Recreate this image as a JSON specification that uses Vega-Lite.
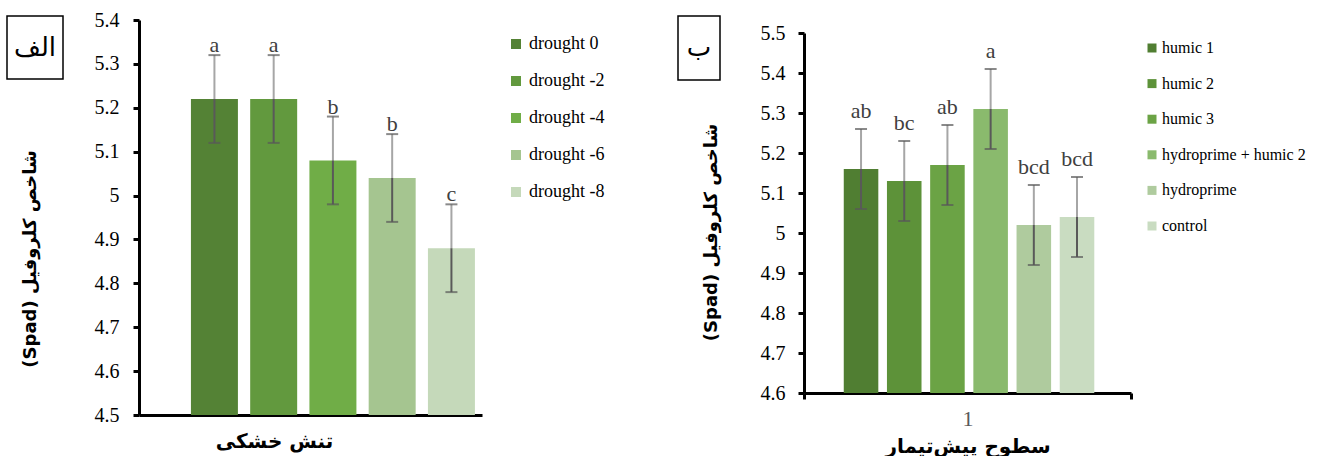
{
  "$schema": "https://vega.github.io/schema/vega-lite/v6.json",
  "padding": {"left": 6, "top": 10, "right": 0, "bottom": 0},
  "background": "white",
  "config": {
    "view": {"stroke": null},
    "axis": {"grid": false}
  },
  "datasets": {
    "left": [
      {"treatment": "drought 0", "value": 5.22, "lo": 5.12, "hi": 5.32, "letter": "a"},
      {"treatment": "drought -2", "value": 5.22, "lo": 5.12, "hi": 5.32, "letter": "a"},
      {"treatment": "drought -4", "value": 5.08, "lo": 4.98, "hi": 5.18, "letter": "b"},
      {"treatment": "drought -6", "value": 5.04, "lo": 4.94, "hi": 5.14, "letter": "b"},
      {"treatment": "drought -8", "value": 4.88, "lo": 4.78, "hi": 4.98, "letter": "c"}
    ],
    "right": [
      {"grp": "1", "treatment": "humic 1", "value": 5.16, "lo": 5.06, "hi": 5.26, "letter": "ab"},
      {"grp": "1", "treatment": "humic 2", "value": 5.13, "lo": 5.03, "hi": 5.23, "letter": "bc"},
      {"grp": "1", "treatment": "humic 3", "value": 5.17, "lo": 5.07, "hi": 5.27, "letter": "ab"},
      {"grp": "1", "treatment": "hydroprime + humic 2", "value": 5.31, "lo": 5.21, "hi": 5.41, "letter": "a"},
      {"grp": "1", "treatment": "hydroprime", "value": 5.02, "lo": 4.92, "hi": 5.12, "letter": "bcd"},
      {"grp": "1", "treatment": "control", "value": 5.04, "lo": 4.94, "hi": 5.14, "letter": "bcd"}
    ],
    "boxA": [{"t": "الف"}],
    "boxB": [{"t": "ب"}],
    "ytitle": [{"t": "(Spad) شاخص کلروفیل"}],
    "none": []
  },
  "resolve": {"scale": {"color": "independent"}, "legend": {"color": "independent"}},
  "spacing": 72,
  "hconcat": [
    {
      "spacing": 30,
      "hconcat": [
        {
          "spacing": 0,
          "vconcat": [
            {
              "width": 56, "height": 63,
              "view": {"stroke": "black", "strokeWidth": 1.5},
              "data": {"name": "boxA"},
              "mark": {"type": "text", "font": "DejaVu Sans", "fontSize": 26, "color": "black", "baseline": "middle", "align": "center"},
              "encoding": {"text": {"field": "t"}}
            },
            {
              "width": 48, "height": 358,
              "data": {"name": "ytitle"},
              "mark": {"type": "text", "font": "DejaVu Sans", "fontWeight": "bold", "fontSize": 18, "color": "black", "angle": 270, "baseline": "middle", "align": "center"},
              "encoding": {"text": {"field": "t"}}
            }
          ]
        },
        {
          "spacing": -7,
          "vconcat": [
            {
              "width": 1, "height": 1,
              "data": {"name": "none"},
              "mark": "rect"
            },
            {
              "width": 343, "height": 395,
              "data": {"name": "left"},
              "encoding": {
                "x": {
                  "field": "treatment", "type": "nominal", "sort": null,
                  "scale": {"paddingInner": 0.207, "paddingOuter": 0.498, "align": 0.88},
                  "axis": {
                    "labels": false, "ticks": false, "domainColor": "black", "domainWidth": 3,
                    "title": "تنش خشکی", "titleFont": "DejaVu Sans", "titleFontWeight": "bold",
                    "titleFontSize": 20, "titleColor": "black", "titleX": 135, "titleAlign": "center", "titlePadding": 16
                  }
                },
                "y": {
                  "field": "value", "type": "quantitative", "title": null,
                  "scale": {"domain": [4.5, 5.4], "nice": false, "zero": false},
                  "axis": {
                    "values": [4.5, 4.6, 4.7, 4.8, 4.9, 5.0, 5.1, 5.2, 5.3, 5.4], "tickCount": 10, "format": ".1~f", "labelOverlap": false,
                    "domainColor": "black", "domainWidth": 3, "tickColor": "black", "tickWidth": 3, "tickSize": 6,
                    "labelFont": "Liberation Serif", "labelFontSize": 20, "labelColor": "black", "labelPadding": 14
                  }
                }
              },
              "layer": [
                {
                  "mark": {"type": "bar"},
                  "encoding": {
                    "y2": {"datum": 4.5},
                    "color": {
                      "field": "treatment", "type": "nominal", "sort": null,
                      "scale": {
                        "domain": ["drought 0", "drought -2", "drought -4", "drought -6", "drought -8"],
                        "range": ["#548235", "#62993e", "#70ad47", "#a5c590", "#c5d9ba"]
                      },
                      "legend": {
                        "orient": "none", "legendX": 500, "legendY": 19, "title": null, "padding": 0,
                        "symbolType": "square", "symbolSize": 100, "symbolStrokeWidth": 0, "symbolOpacity": 1,
                        "labelFont": "Liberation Serif", "labelFontSize": 18, "labelColor": "black",
                        "rowPadding": 19, "labelOffset": 4
                      }
                    }
                  }
                },
                {
                  "mark": {"type": "rule", "color": "#a6a6a6", "strokeWidth": 2},
                  "encoding": {"y2": {"field": "hi"}}
                },
                {
                  "mark": {"type": "rule", "color": "#595959", "strokeWidth": 2},
                  "encoding": {
                    "y": {"field": "lo", "type": "quantitative", "title": null},
                    "y2": {"field": "value"}
                  }
                },
                {
                  "mark": {"type": "tick", "color": "#595959", "thickness": 2, "size": 12},
                  "encoding": {"y": {"field": "hi", "type": "quantitative", "title": null}}
                },
                {
                  "mark": {"type": "tick", "color": "#595959", "thickness": 2, "size": 12},
                  "encoding": {"y": {"field": "lo", "type": "quantitative", "title": null}}
                },
                {
                  "mark": {"type": "text", "font": "Liberation Serif", "fontSize": 22, "color": "#404040", "baseline": "alphabetic", "dy": -3},
                  "encoding": {
                    "y": {"field": "hi", "type": "quantitative", "title": null},
                    "text": {"field": "letter"}
                  }
                }
              ]
            }
          ]
        }
      ]
    },
    {
      "spacing": 14,
      "hconcat": [
        {
          "spacing": 0,
          "vconcat": [
            {
              "width": 42, "height": 64,
              "view": {"stroke": "black", "strokeWidth": 1.5},
              "data": {"name": "boxB"},
              "mark": {"type": "text", "font": "DejaVu Sans", "fontSize": 26, "color": "black", "baseline": "middle", "align": "center"},
              "encoding": {"text": {"field": "t"}}
            },
            {
              "width": 68, "height": 303,
              "data": {"name": "ytitle"},
              "mark": {"type": "text", "font": "DejaVu Sans", "fontWeight": "bold", "fontSize": 18, "color": "black", "angle": 270, "baseline": "middle", "align": "center"},
              "encoding": {"text": {"field": "t"}}
            }
          ]
        },
        {
          "spacing": 6,
          "vconcat": [
            {
              "width": 1, "height": 1,
              "data": {"name": "none"},
              "mark": "rect"
            },
            {
              "width": 327, "height": 360,
              "data": {"name": "right"},
              "encoding": {
                "x": {
                  "field": "grp", "type": "nominal",
                  "scale": {"paddingInner": 0, "paddingOuter": 0},
                  "axis": {
                    "labelAngle": 0, "labelFont": "Liberation Serif", "labelFontSize": 22, "labelColor": "#595959", "labelPadding": 9,
                    "ticks": true, "tickBand": "extent", "tickSize": 6, "tickWidth": 3, "tickColor": "black",
                    "domainColor": "black", "domainWidth": 3,
                    "title": "سطوح پیش‌تیمار", "titleFont": "DejaVu Sans", "titleFontWeight": "bold",
                    "titleFontSize": 20, "titleColor": "black", "titlePadding": 7
                  }
                },
                "xOffset": {
                  "field": "treatment", "type": "nominal", "sort": null,
                  "scale": {"domain": ["humic 1", "humic 2", "humic 3", "hydroprime + humic 2", "hydroprime", "control"], "paddingInner": 0.2, "paddingOuter": 0.885, "align": 0.52}
                },
                "y": {
                  "field": "value", "type": "quantitative", "title": null,
                  "scale": {"domain": [4.6, 5.5], "nice": false, "zero": false},
                  "axis": {
                    "values": [4.6, 4.7, 4.8, 4.9, 5.0, 5.1, 5.2, 5.3, 5.4, 5.5], "tickCount": 10, "format": ".1~f", "labelOverlap": false,
                    "domainColor": "black", "domainWidth": 3, "tickColor": "black", "tickWidth": 3, "tickSize": 6,
                    "labelFont": "Liberation Serif", "labelFontSize": 20, "labelColor": "black", "labelPadding": 13
                  }
                }
              },
              "layer": [
                {
                  "mark": {"type": "bar"},
                  "encoding": {
                    "y2": {"datum": 4.6},
                    "color": {
                      "field": "treatment", "type": "nominal", "sort": null,
                      "scale": {
                        "domain": ["humic 1", "humic 2", "humic 3", "hydroprime + humic 2", "hydroprime", "control"],
                        "range": ["#507e32", "#5d9239", "#6ba345", "#8aba6d", "#afcb9e", "#c9dcc1"]
                      },
                      "legend": {
                        "orient": "none", "legendX": 466, "legendY": 24, "title": null, "padding": 0,
                        "symbolType": "square", "symbolSize": 81, "symbolStrokeWidth": 0, "symbolOpacity": 1,
                        "labelFont": "Liberation Serif", "labelFontSize": 16, "labelColor": "black",
                        "rowPadding": 19.6, "labelOffset": 2, "labelLimit": 300
                      }
                    }
                  }
                },
                {
                  "mark": {"type": "rule", "color": "#a6a6a6", "strokeWidth": 2},
                  "encoding": {"y2": {"field": "hi"}}
                },
                {
                  "mark": {"type": "rule", "color": "#595959", "strokeWidth": 2},
                  "encoding": {
                    "y": {"field": "lo", "type": "quantitative", "title": null},
                    "y2": {"field": "value"}
                  }
                },
                {
                  "mark": {"type": "tick", "color": "#595959", "thickness": 2, "size": 12},
                  "encoding": {"y": {"field": "hi", "type": "quantitative", "title": null}}
                },
                {
                  "mark": {"type": "tick", "color": "#595959", "thickness": 2, "size": 12},
                  "encoding": {"y": {"field": "lo", "type": "quantitative", "title": null}}
                },
                {
                  "mark": {"type": "text", "font": "Liberation Serif", "fontSize": 22, "color": "#404040", "baseline": "alphabetic", "dy": -11},
                  "encoding": {
                    "y": {"field": "hi", "type": "quantitative", "title": null},
                    "text": {"field": "letter"}
                  }
                }
              ]
            }
          ]
        }
      ]
    }
  ]
}
